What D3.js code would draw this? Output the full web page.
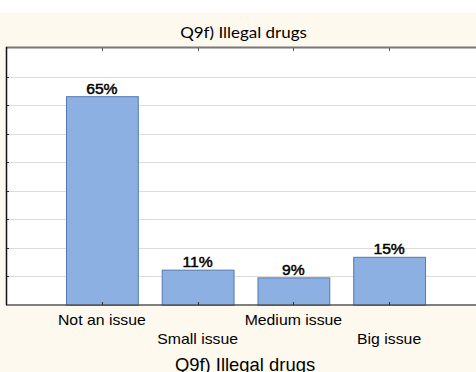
<!DOCTYPE html>
<html><head><meta charset="utf-8">
<script src="https://cdn.jsdelivr.net/npm/d3@7/dist/d3.min.js"></script>
<style>html,body{margin:0;padding:0;background:#fff;overflow:hidden}</style>
</head><body>
<svg id="c" width="476" height="372"></svg>
<script>
const categories = ["Not an issue", "Small issue", "Medium issue", "Big issue"];
const values = [65, 11, 8.6, 15];
const valueLabels = ["65%", "11%", "9%", "15%"];
const chartTitle = "Q9f) Illegal drugs";
const axisTitle = "Q9f) Illegal drugs";
const yMax = 80;
const gridCount = 9;

const svg = d3.select("#c");
const W = 476, H = 372;
const plot = {left: 6, right: 476, top: 48, bottom: 305};
const SX = 1.13; // horizontal text stretch

svg.append("rect").attr("x", 0).attr("y", 13).attr("width", W).attr("height", H - 13).attr("fill", "#fef9ee");
svg.append("rect").attr("x", plot.left).attr("y", plot.top).attr("width", plot.right - plot.left).attr("height", plot.bottom - plot.top).attr("fill", "#fff");

const x = d3.scaleBand().domain(categories).range([54, 437]).paddingInner(0.25).paddingOuter(0.125);
const y = d3.scaleLinear().domain([0, yMax]).range([plot.bottom, plot.top]);
const cx = d => x(d) + x.bandwidth() / 2;

function stretchedText(g, tx, ty, txt, size, family, sx, strokeW) {
  const t = g.append("text")
    .attr("transform", `translate(${tx},${ty}) scale(${sx || SX},1)`)
    .attr("text-anchor", "middle")
    .attr("font-family", family)
    .attr("font-size", size).attr("fill", "#000")
    .text(txt);
  if (strokeW) t.attr("stroke", "#000").attr("stroke-width", strokeW);
  return t;
}

const gridVals = d3.range(1, gridCount).map(i => i * yMax / gridCount);
svg.append("g").selectAll("line").data(gridVals).join("line")
  .attr("x1", plot.left).attr("x2", plot.right)
  .attr("y1", d => Math.round(y(d)) + 0.5).attr("y2", d => Math.round(y(d)) + 0.5)
  .attr("stroke", "#dcdcdc").attr("stroke-width", 1);
svg.append("g").selectAll("line").data(gridVals).join("line")
  .attr("x1", plot.left).attr("x2", plot.left + 3)
  .attr("y1", d => Math.round(y(d)) + 0.5).attr("y2", d => Math.round(y(d)) + 0.5)
  .attr("stroke", "#333");

// bars
svg.append("g").selectAll("rect").data(values).join("rect")
  .attr("x", (d, i) => x(categories[i]) + 0.5)
  .attr("y", d => y(d) + 0.5)
  .attr("width", x.bandwidth())
  .attr("height", d => plot.bottom - y(d))
  .attr("fill", "#8db0e2").attr("stroke", "#5578ad").attr("stroke-width", 1);

// value labels
const vl = svg.append("g");
values.forEach((v, i) => stretchedText(vl, cx(categories[i]), y(v) - 2.5, valueLabels[i], 14, "Liberation Sans, Arial, sans-serif", 1.12, 0.45));

// frame
svg.append("line").attr("x1", plot.left).attr("x2", plot.right).attr("y1", plot.top - 0.5).attr("y2", plot.top - 0.5).attr("stroke", "#777").attr("stroke-width", 2);
svg.append("line").attr("x1", plot.left).attr("x2", plot.right).attr("y1", plot.bottom).attr("y2", plot.bottom).attr("stroke", "#555").attr("stroke-width", 1.5);
svg.append("line").attr("x1", plot.left + 0.5).attr("x2", plot.left + 0.5).attr("y1", plot.top - 1).attr("y2", plot.bottom).attr("stroke", "#111").attr("stroke-width", 1.5);

// top & bottom ticks
svg.append("g").selectAll("line").data(categories).join("line")
  .attr("x1", d => Math.round(cx(d)) + 0.5).attr("x2", d => Math.round(cx(d)) + 0.5)
  .attr("y1", plot.top).attr("y2", plot.top + 3).attr("stroke", "#555");
svg.append("g").selectAll("line").data(categories).join("line")
  .attr("x1", d => Math.round(cx(d)) + 0.5).attr("x2", d => Math.round(cx(d)) + 0.5)
  .attr("y1", plot.bottom - 3).attr("y2", plot.bottom).attr("stroke", "#333");

// category labels (staggered)
const cl = svg.append("g");
categories.forEach((c, i) => stretchedText(cl, cx(c), i % 2 === 0 ? 325 : 344, c, 14, "Liberation Sans, Arial, sans-serif"));

// titles
stretchedText(svg, 243.5, 38, chartTitle, 15, "Lato, sans-serif");
stretchedText(svg, 245, 371, axisTitle, 19, "Liberation Sans, Arial, sans-serif", 0.97);
</script>
</body></html>
